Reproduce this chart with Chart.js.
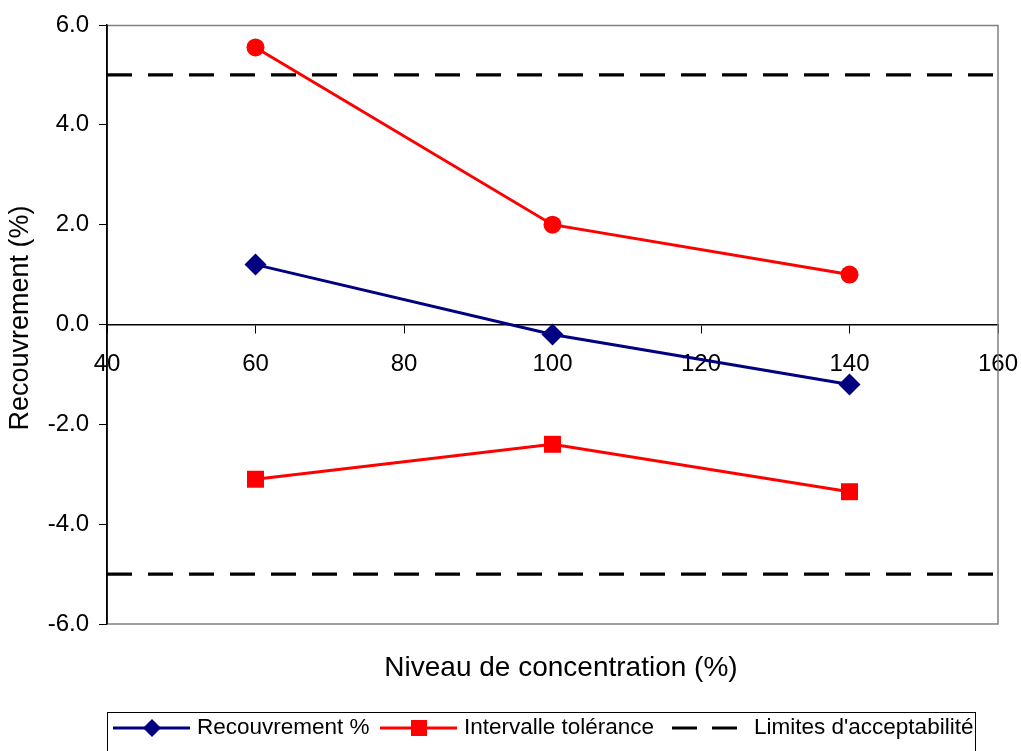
<!DOCTYPE html>
<html>
<head>
<meta charset="utf-8">
<script src="https://cdn.jsdelivr.net/npm/chart.js@4.4.1/dist/chart.umd.min.js"></script>
<style>
  body { margin: 0; background: #fff; }
  canvas { display: block; }
</style>
</head>
<body>
<canvas id="recChart" width="1021" height="751"></canvas>
<script>
// donnees
const concentrations = [60, 100, 140];
const recouvrement = [1.2, -0.2, -1.2];
const toleranceHaute = [5.55, 2.0, 1.0];
const toleranceBasse = [-3.1, -2.4, -3.35];
const limites = [5, -5];
const xBornes = [40, 160];
const yBornes = [-6, 6];
const legendLabels = ["Recouvrement %", "Intervalle tolérance", "Limites d'acceptabilité"];

const FONT = "'Liberation Sans', Arial, sans-serif";

function pts(ys) {
  return concentrations.map((x, i) => ({ x: x, y: ys[i] }));
}
function ligneLimite(v) {
  return [{ x: xBornes[0], y: v }, { x: xBornes[1], y: v }];
}

// cadre gris, titres et legende
const decor = {
  id: 'decor',
  beforeDatasetsDraw(chart) {
    const ctx = chart.ctx, a = chart.chartArea;
    ctx.save();
    ctx.strokeStyle = '#808080';
    ctx.lineWidth = 1.5;
    ctx.beginPath();
    ctx.moveTo(a.left, a.top + 0.5);
    ctx.lineTo(a.right, a.top + 0.5);
    ctx.lineTo(a.right, a.bottom);
    ctx.lineTo(a.left, a.bottom);
    ctx.stroke();
    ctx.strokeStyle = '#000';
    ctx.beginPath();
    ctx.moveTo(a.left, a.top);
    ctx.lineTo(a.left, a.bottom);
    ctx.stroke();
    ctx.restore();
  },
  afterDraw(chart) {
    const ctx = chart.ctx;
    ctx.save();
    ctx.fillStyle = '#000';
    ctx.font = '28px ' + FONT;
    ctx.textAlign = 'center';
    ctx.textBaseline = 'middle';
    ctx.fillText('Niveau de concentration (%)', 561, 668);
    ctx.font = '27px ' + FONT;
    ctx.translate(21, 318);
    ctx.rotate(-Math.PI / 2);
    ctx.fillText('Recouvrement (%)', 0, 0);
    ctx.restore();

    // legende
    ctx.save();
    ctx.strokeStyle = '#000';
    ctx.lineWidth = 1;
    ctx.strokeRect(107.5, 712.5, 868, 60);
    const ly = 728;
    ctx.lineWidth = 3;
    ctx.strokeStyle = '#000080';
    ctx.beginPath(); ctx.moveTo(113, ly); ctx.lineTo(190, ly); ctx.stroke();
    ctx.fillStyle = '#000080';
    ctx.beginPath();
    ctx.moveTo(152, ly - 9); ctx.lineTo(161, ly); ctx.lineTo(152, ly + 9); ctx.lineTo(143, ly);
    ctx.closePath(); ctx.fill();
    ctx.strokeStyle = '#ff0000';
    ctx.beginPath(); ctx.moveTo(380, ly); ctx.lineTo(457, ly); ctx.stroke();
    ctx.fillStyle = '#ff0000';
    ctx.fillRect(411, ly - 8, 16, 16);
    ctx.strokeStyle = '#000';
    ctx.setLineDash([25, 15]);
    ctx.beginPath(); ctx.moveTo(672, ly); ctx.lineTo(737, ly); ctx.stroke();
    ctx.setLineDash([]);
    ctx.fillStyle = '#000';
    ctx.font = '22.5px ' + FONT;
    ctx.textAlign = 'left';
    ctx.textBaseline = 'middle';
    ctx.fillText(legendLabels[0], 197, ly);
    ctx.fillText(legendLabels[1], 464, ly);
    ctx.fillText(legendLabels[2], 754, ly);
    ctx.restore();
  }
};

new Chart('recChart', {
  type: 'line',
  data: {
    datasets: [
      {
        label: legendLabels[0],
        data: pts(recouvrement),
        borderColor: '#000080',
        backgroundColor: '#000080',
        borderWidth: 3,
        pointStyle: 'rectRot',
        pointRadius: 11,
        pointBorderWidth: 0
      },
      {
        label: legendLabels[1],
        data: pts(toleranceHaute),
        borderColor: '#ff0000',
        backgroundColor: '#ff0000',
        borderWidth: 3,
        pointStyle: 'circle',
        pointRadius: 9,
        pointBorderWidth: 0
      },
      {
        label: legendLabels[1],
        data: pts(toleranceBasse),
        borderColor: '#ff0000',
        backgroundColor: '#ff0000',
        borderWidth: 3,
        pointStyle: 'rect',
        pointRadius: 12,
        pointBorderWidth: 0
      },
      {
        label: legendLabels[2],
        data: ligneLimite(limites[0]),
        borderColor: '#000',
        borderWidth: 3.3,
        borderDash: [25, 16],
        pointRadius: 0
      },
      {
        label: legendLabels[2],
        data: ligneLimite(limites[1]),
        borderColor: '#000',
        borderWidth: 3.3,
        borderDash: [25, 16],
        pointRadius: 0
      }
    ]
  },
  options: {
    responsive: false,
    animation: false,
    layout: { padding: { left: 0, right: 23, top: 25, bottom: 127 } },
    plugins: {
      legend: { display: false },
      tooltip: { enabled: false }
    },
    scales: {
      x: {
        type: 'linear',
        position: { y: 0 },
        min: xBornes[0],
        max: xBornes[1],
        afterFit(s) { s.paddingLeft = 0; s.paddingRight = 0; },
        ticks: {
          stepSize: 20,
          color: '#000',
          padding: 17,
          font: { family: FONT, size: 24 }
        },
        grid: { drawOnChartArea: false, tickLength: 8, color: '#000' },
        border: { color: '#000', width: 1.5 }
      },
      y: {
        min: yBornes[0],
        max: yBornes[1],
        afterFit(s) { s.width = 107; s.paddingTop = 0; s.paddingBottom = 0; },
        ticks: {
          stepSize: 2,
          color: '#000',
          padding: 10,
          font: { family: FONT, size: 24 },
          callback: v => v.toFixed(1)
        },
        grid: { drawOnChartArea: false, tickLength: 8, color: '#000' },
        border: { color: '#000', width: 1.5 }
      }
    }
  },
  plugins: [decor]
});
</script>
</body>
</html>
